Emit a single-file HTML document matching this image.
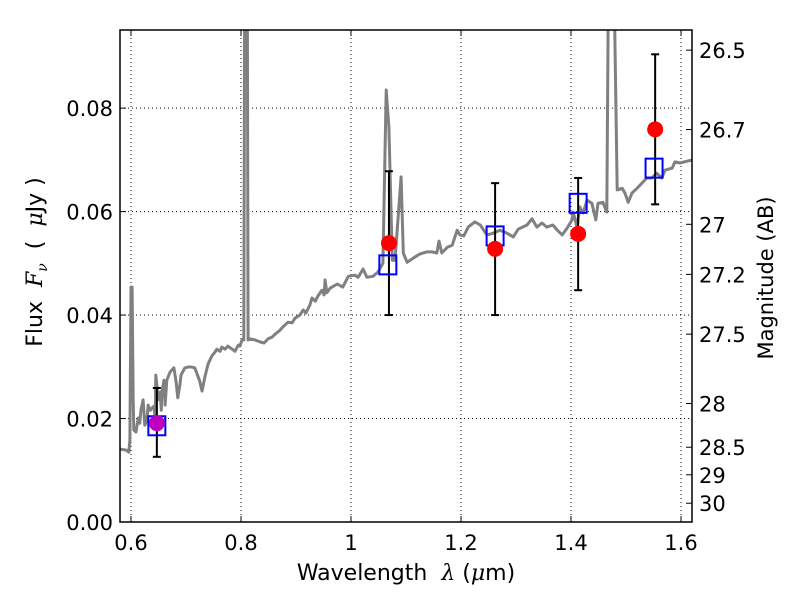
<!DOCTYPE html>
<html><head><meta charset="utf-8"><style>
body{margin:0;background:#fff}
svg{display:block;font-family:"DejaVu Sans","Liberation Sans",sans-serif}
</style></head><body>
<svg id="chart" width="800" height="600"></svg>
<script>
const specWave=[0.580,0.591,0.596,0.598,0.600,0.602,0.604,0.605,0.609,0.613,0.616,0.618,0.622,0.625,0.629,0.631,0.635,0.638,0.642,0.644,0.645,0.647,0.649,0.653,0.655,0.656,0.660,0.662,0.665,0.671,0.678,0.682,0.685,0.689,0.691,0.698,0.707,0.716,0.725,0.729,0.735,0.740,0.747,0.753,0.756,0.762,0.765,0.771,0.776,0.784,0.789,0.795,0.798,0.802,0.805,0.807,0.811,0.813,0.816,0.825,0.835,0.842,0.849,0.856,0.862,0.871,0.876,0.885,0.893,0.898,0.907,0.913,0.918,0.925,0.929,0.935,0.940,0.947,0.951,0.953,0.956,0.962,0.975,0.985,0.995,1.007,1.013,1.022,1.029,1.040,1.049,1.058,1.064,1.069,1.075,1.080,1.091,1.095,1.102,1.113,1.125,1.138,1.147,1.156,1.160,1.165,1.175,1.184,1.193,1.198,1.205,1.213,1.225,1.235,1.247,1.258,1.271,1.284,1.295,1.304,1.320,1.329,1.338,1.347,1.356,1.367,1.375,1.384,1.393,1.402,1.404,1.411,1.416,1.422,1.429,1.438,1.445,1.449,1.458,1.465,1.469,1.476,1.484,1.493,1.498,1.504,1.511,1.520,1.529,1.538,1.547,1.556,1.565,1.571,1.584,1.589,1.598,1.613,1.622];
const specFlux=[.0141,.0139,.0135,.0158,.0454,.0454,.0236,.0178,.0174,.0201,.0191,.0216,.0236,.0187,.0197,.0226,.0216,.0220,.0224,.0197,.0284,.0265,.0236,.0251,.0216,.0251,.0274,.0226,.0274,.0290,.0298,.0271,.0240,.0265,.0284,.0298,.0300,.0298,.0272,.0253,.0284,.0305,.0321,.0329,.0334,.0330,.0338,.0334,.0340,.0334,.0330,.0342,.0340,.0352,.0352,.12,.12,.0352,.0354,.0352,.0348,.0346,.0354,.0357,.0363,.0371,.0377,.0386,.0385,.0394,.0400,.0410,.0404,.0419,.0433,.0427,.0437,.0448,.0439,.0468,.0443,.0452,.0460,.0454,.0475,.0477,.0473,.0489,.0473,.0475,.0483,.0500,.0835,.0763,.0506,.0506,.0667,.0520,.0502,.0510,.0518,.0522,.0522,.0520,.0543,.0520,.0531,.0535,.0564,.0555,.0553,.0570,.0580,.0574,.0555,.0558,.0564,.0558,.0551,.0566,.0574,.0586,.0570,.0578,.0570,.0574,.0564,.0555,.0568,.0584,.0599,.0570,.0609,.0597,.0622,.0616,.0584,.0616,.0618,.0599,.12,.12,.0642,.0645,.0636,.0618,.0636,.0645,.0655,.0665,.0665,.0674,.0665,.0680,.0684,.0696,.0694,.0698,.0700];
const obsWave=[0.647,1.069,1.262,1.413,1.553];
const obsFlux=[.0191,.0539,.0528,.0557,.0759];
const errLo=[.0126,.0400,.0400,.0448,.0614];
const errHi=[.0259,.0678,.0655,.0665,.0904];
const modelWave=[0.647,1.067,1.262,1.413,1.551];
const modelFlux=[.0186,.0497,.0553,.0616,.0684];
const xTicks=[0.6,0.8,1.0,1.2,1.4,1.6];
const xTickLabels=["0.6","0.8","1","1.2","1.4","1.6"];
const yTicks=[0,0.02,0.04,0.06,0.08];
const yTickLabels=["0.00","0.02","0.04","0.06","0.08"];
const magTicks=[26.5,26.7,27,27.2,27.5,28,28.5,29,30];
const magTickLabels=["26.5","26.7","27","27.2","27.5","28","28.5","29","30"];

const L=120,R=692,T=30,B=522,X0=0.58,X1=1.62,Y0=0,Y1=0.0951;
const sx=v=>L+(v-X0)/(X1-X0)*(R-L);
const sy=v=>B-(v-Y0)/(Y1-Y0)*(B-T);
const magToFlux=m=>Math.pow(10,(23.9-m)/2.5);
const svg=document.getElementById('chart');
const NS='http://www.w3.org/2000/svg';
function mk(tag,attrs,parent){const e=document.createElementNS(NS,tag);for(const k in attrs)e.setAttribute(k,attrs[k]);(parent||svg).appendChild(e);return e;}

const defs=mk('defs',{});
const cp=mk('clipPath',{id:'clip'},defs);
mk('rect',{x:L,y:T,width:R-L,height:B-T},cp);

const grid=mk('g',{stroke:'#000','stroke-width':1,'stroke-dasharray':'1,3'});


xTicks.forEach(t=>mk('line',{x1:sx(t),x2:sx(t),y1:T,y2:B},grid));
yTicks.forEach(t=>mk('line',{x1:L,x2:R,y1:sy(t),y2:sy(t)},grid));

const pts=specWave.map((w,i)=>sx(w).toFixed(1)+','+sy(specFlux[i]).toFixed(1)).join(' ');
const spec=mk('polyline',{points:pts,fill:'none',stroke:'#808080','stroke-width':3,'stroke-linejoin':'round','clip-path':'url(#clip)'});



obsWave.forEach((w,i)=>{
  const g=mk('g',{stroke:'#000','stroke-width':2});
  
  
  const x=sx(w);
  mk('line',{x1:x,x2:x,y1:sy(errLo[i]),y2:sy(errHi[i])},g);
  mk('line',{x1:x-4,x2:x+4,y1:sy(errLo[i]),y2:sy(errLo[i])},g);
  mk('line',{x1:x-4,x2:x+4,y1:sy(errHi[i]),y2:sy(errHi[i])},g);
});
modelWave.forEach((w,i)=>{
  const r=mk('rect',{x:sx(w)-8.5,y:sy(modelFlux[i])-9.5,width:17,height:19,fill:'none',stroke:'#0000ff','stroke-width':2});
  
  
});
obsWave.forEach((w,i)=>{
  const c=mk('circle',{cx:sx(w),cy:sy(obsFlux[i]),r:8,fill:i===0?'#bf00bf':'#ff0000'});
  
  
});

const fr=mk('rect',{x:L,y:T,width:R-L,height:B-T,fill:'none',stroke:'#000','stroke-width':1.5});



xTicks.forEach((t,i)=>{
  mk('line',{x1:sx(t),x2:sx(t),y1:B,y2:B-6,stroke:'#000'});
  mk('line',{x1:sx(t),x2:sx(t),y1:T,y2:T+6,stroke:'#000'});
  const tx=mk('text',{x:sx(t),y:B+28,'text-anchor':'middle','font-size':21});
  tx.textContent=xTickLabels[i];
  
  
});
yTicks.forEach((t,i)=>{
  mk('line',{x1:L,x2:L+6,y1:sy(t),y2:sy(t),stroke:'#000'});
  const tx=mk('text',{x:L-7,y:sy(t)+8,'text-anchor':'end','font-size':21});
  tx.textContent=yTickLabels[i];
  
  
});
magTicks.forEach((m,i)=>{
  const y=sy(magToFlux(m));
  mk('line',{x1:R,x2:R-6,y1:y,y2:y,stroke:'#000'});
  const tx=mk('text',{x:R+7,y:y+8,'text-anchor':'start','font-size':21});
  tx.textContent=magTickLabels[i];
  
  
});
</script>
<div style="position:absolute;left:0;top:0;width:800px;height:600px;pointer-events:none;font-family:'DejaVu Sans','Liberation Sans',sans-serif">
  <div style="position:absolute;left:0;width:812px;top:561px;text-align:center;font-size:22px">Wavelength &nbsp;<i style="font-family:'DejaVu Serif',serif">λ</i> (<i style="font-family:'DejaVu Serif',serif">μ</i>m)</div>
  <div style="position:absolute;left:37px;top:262px;width:0;height:0"><div style="position:absolute;transform:translate(-50%,-50%) rotate(-90deg);white-space:nowrap;font-size:22px">Flux &nbsp;<i style="font-family:'DejaVu Serif',serif">F<sub style="font-size:14px">ν</sub></i> &nbsp;( &nbsp;<i style="font-family:'DejaVu Serif',serif">μ</i>Jy )</div></div>
  <div style="position:absolute;left:766px;top:278px;width:0;height:0"><div style="position:absolute;transform:translate(-50%,-50%) rotate(-90deg);white-space:nowrap;font-size:21px">Magnitude (AB)</div></div>
</div>
</body></html>
